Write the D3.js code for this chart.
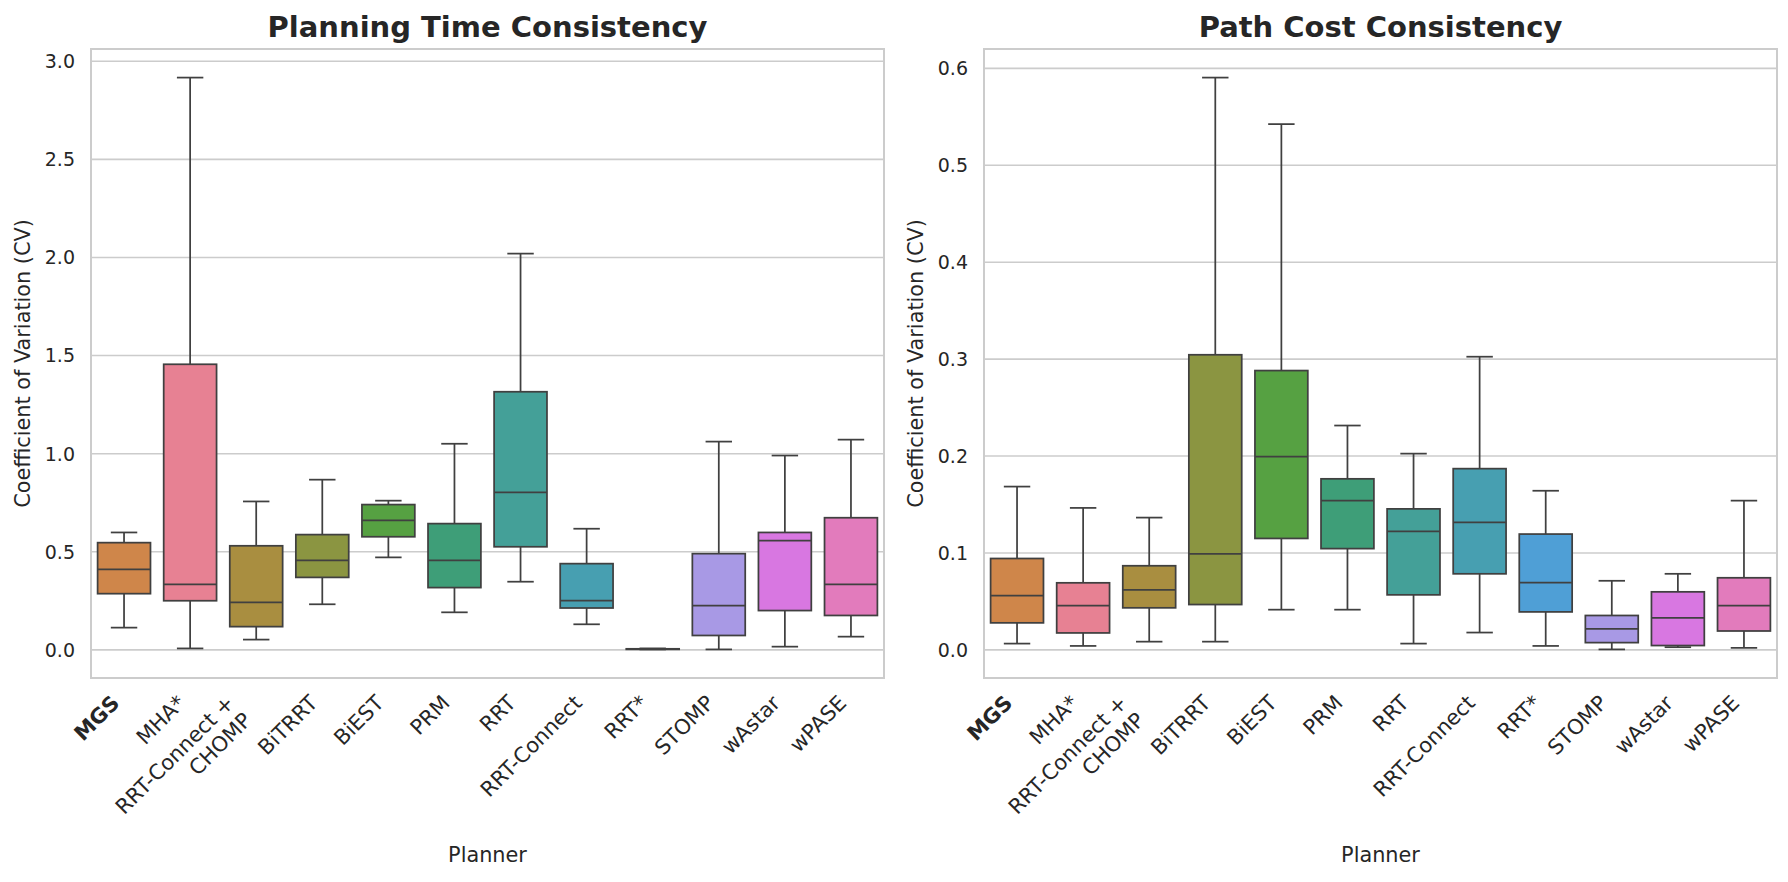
<!DOCTYPE html>
<html>
<head>
<meta charset="utf-8">
<script src="https://cdn.jsdelivr.net/npm/d3@7"></script>
<style>
  html, body { margin: 0; padding: 0; background: #fff; }
  svg { display: block; }
  text { font-family: "DejaVu Sans", sans-serif; fill: #262626; }
</style>
</head>
<body>
<svg id="chart" width="1788" height="882"></svg>
<script>
// planners, left to right
const planners = ['MGS', 'MHA*', 'RRT-Connect +\nCHOMP', 'BiTRRT', 'BiEST', 'PRM', 'RRT',
    'RRT-Connect', 'RRT*', 'STOMP', 'wAstar', 'wPASE']

// planning time CV: whisker low, q1, median, q3, whisker high
const timeLow  = [0.111, 0.005, 0.050, 0.230, 0.469, 0.189, 0.345, 0.128, 0.000, 0.000, 0.014, 0.065]
const timeQ1   = [0.284, 0.248, 0.116, 0.367, 0.574, 0.315, 0.523, 0.211, 0.0005, 0.071, 0.198, 0.173]
const timeMed  = [0.408, 0.331, 0.240, 0.454, 0.658, 0.454, 0.800, 0.248, 0.001, 0.223, 0.555, 0.331]
const timeQ3   = [0.544, 1.453, 0.528, 0.585, 0.738, 0.641, 1.313, 0.437, 0.003, 0.488, 0.596, 0.671]
const timeHigh = [0.596, 2.914, 0.754, 0.865, 0.758, 1.048, 2.017, 0.615, 0.005, 1.059, 0.988, 1.069]

// path cost CV
const costLow  = [0.0060, 0.0036, 0.0080, 0.0080, 0.0410, 0.0410, 0.0060, 0.0174, 0.0036, 0.0000, 0.0023, 0.0016]
const costQ1   = [0.0274, 0.0170, 0.0429, 0.0463, 0.1145, 0.1040, 0.0563, 0.0780, 0.0387, 0.0070, 0.0040, 0.0190]
const costMed  = [0.0556, 0.0453, 0.0615, 0.0987, 0.1990, 0.1534, 0.1217, 0.1310, 0.0690, 0.0212, 0.0326, 0.0453]
const costQ3   = [0.0938, 0.0687, 0.0863, 0.3040, 0.2877, 0.1760, 0.1450, 0.1865, 0.1190, 0.0350, 0.0594, 0.0739]
const costHigh = [0.1680, 0.1460, 0.1360, 0.5900, 0.5420, 0.2310, 0.2020, 0.3020, 0.1637, 0.0708, 0.0780, 0.1535]

const timeTicks = [0, 0.5, 1.0, 1.5, 2.0, 2.5, 3.0]
const costTicks = [0, 0.1, 0.2, 0.3, 0.4, 0.5, 0.6]

const palette = ['#cf864a', '#e78193', '#a98e40', '#8b9541', '#56a142', '#3e9e78',
    '#44a098', '#479fb1', '#4f9fd6', '#a899e5', '#d877e1', '#e27bbc']

const svg = d3.select('#chart')
svg.append('rect').attr('width', 1788).attr('height', 882).attr('fill', '#fff')

const plotTop = 49, plotBottom = 678
const tickFont = 19, xTickFont = 21, labelFont = 20.8
const lineColor = '#404040'

const drawPanel = (left, right, title, low, q1, med, q3, high, ticks) => {
    const w = right - left
    const h = plotBottom - plotTop
    const g = svg.append('g').attr('transform', `translate(${left}, ${plotTop})`)

    const lo = d3.min(low), hi = d3.max(high)
    const pad = (hi - lo) * 0.05
    const y = d3.scaleLinear().domain([lo - pad, hi + pad]).range([h, 0])
    const x = d3.scaleBand().domain(d3.range(planners.length)).range([0, w])

    // grid + y tick labels
    const yAxis = d3.axisLeft(y)
        .tickValues(ticks)
        .tickSize(-w)
        .tickPadding(16)
        .tickFormat(d3.format('.1f'))
    const yg = g.append('g').call(yAxis)
    yg.select('.domain').remove()
    yg.selectAll('line').attr('stroke', '#cccccc').attr('stroke-width', 1.6)
    yg.selectAll('text')
        .attr('font-size', tickFont)
        .attr('dy', '0.36em')
        .style('font-family', '"DejaVu Sans", sans-serif')
        .attr('fill', '#262626')

    // boxes
    const bw = x.bandwidth() * 0.8
    const cap = bw / 2
    const boxes = g.append('g').selectAll('g')
        .data(planners)
        .enter()
        .append('g')
        .attr('transform', (d, i) => `translate(${x(i) + x.bandwidth() / 2}, 0)`)

    boxes.append('line')
        .attr('x1', 0).attr('x2', 0)
        .attr('y1', (d, i) => y(high[i])).attr('y2', (d, i) => y(q3[i]))
    boxes.append('line')
        .attr('x1', 0).attr('x2', 0)
        .attr('y1', (d, i) => y(q1[i])).attr('y2', (d, i) => y(low[i]))
    boxes.append('line')
        .attr('x1', -cap / 2).attr('x2', cap / 2)
        .attr('y1', (d, i) => y(high[i])).attr('y2', (d, i) => y(high[i]))
    boxes.append('line')
        .attr('x1', -cap / 2).attr('x2', cap / 2)
        .attr('y1', (d, i) => y(low[i])).attr('y2', (d, i) => y(low[i]))
    boxes.append('rect')
        .attr('x', -bw / 2)
        .attr('width', bw)
        .attr('y', (d, i) => y(q3[i]))
        .attr('height', (d, i) => Math.max(y(q1[i]) - y(q3[i]), 0.5))
        .attr('fill', (d, i) => palette[i])
    boxes.append('line')
        .attr('x1', -bw / 2).attr('x2', bw / 2)
        .attr('y1', (d, i) => y(med[i])).attr('y2', (d, i) => y(med[i]))
    boxes.selectAll('line, rect')
        .attr('stroke', lineColor)
        .attr('stroke-width', 1.75)

    // x tick labels, rotated 45 deg, right aligned
    const xAxis = d3.axisBottom(x).tickSize(0).tickFormat('')
    const xg = g.append('g').attr('transform', `translate(0, ${h})`).call(xAxis)
    xg.select('.domain').remove()
    xg.selectAll('.tick').attr('transform', d => `translate(${x(d) + x.bandwidth() / 2}, 0)`)
    const asc = 0.76 * xTickFont, desc = 0.23 * xTickFont, lh = 1.17 * xTickFont
    xg.selectAll('.tick').each(function (d) {
        const lines = planners[d].split('\n')
        const dx = -0.7071 * (desc + (lines.length - 1) * lh)
        const dy = 15 + 0.7071 * asc
        const t = d3.select(this).append('text')
            .attr('transform', `translate(${dx}, ${dy}) rotate(-45)`)
            .attr('text-anchor', 'end')
            .attr('font-size', xTickFont)
            .attr('font-weight', d == 0 ? 'bold' : 'normal')
            .attr('fill', '#262626')
        lines.forEach((l, k) => {
            t.append('tspan').attr('x', 0).attr('y', k * lh).text(l)
        })
    })

    // frame
    g.append('rect')
        .attr('width', w).attr('height', h)
        .attr('fill', 'none')
        .attr('stroke', '#cccccc')
        .attr('stroke-width', 2)

    // titles and labels
    g.append('text')
        .attr('x', w / 2).attr('y', 37 - plotTop)
        .attr('text-anchor', 'middle')
        .attr('font-size', 29)
        .attr('font-weight', 'bold')
        .text(title)
    g.append('text')
        .attr('x', w / 2).attr('y', 862 - plotTop)
        .attr('text-anchor', 'middle')
        .attr('font-size', labelFont)
        .text('Planner')
    g.append('text')
        .attr('transform', `translate(-61, ${h / 2}) rotate(-90)`)
        .attr('text-anchor', 'middle')
        .attr('font-size', labelFont)
        .text('Coefficient of Variation (CV)')
}

drawPanel(91, 884, 'Planning Time Consistency', timeLow, timeQ1, timeMed, timeQ3, timeHigh, timeTicks)
drawPanel(984, 1777, 'Path Cost Consistency', costLow, costQ1, costMed, costQ3, costHigh, costTicks)
</script>
</body>
</html>
